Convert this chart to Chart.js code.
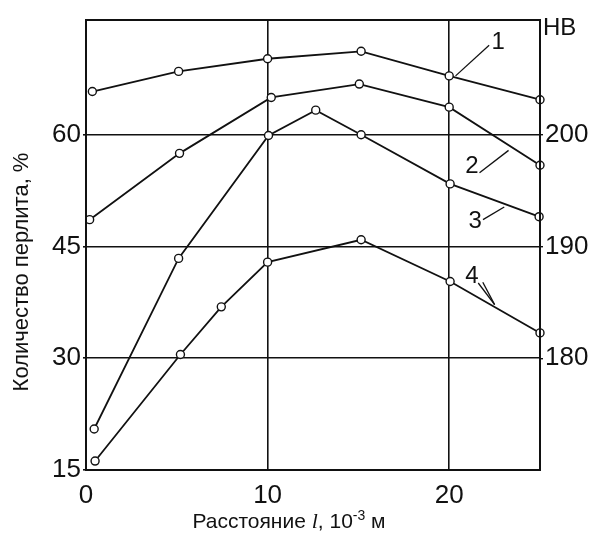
<!DOCTYPE html>
<html>
<head>
<meta charset="utf-8">
<script src="https://cdn.jsdelivr.net/npm/chart.js@4.4.1/dist/chart.umd.min.js"></script>
<style>
  body { margin: 0; background: #fff; }
  canvas { display: block; }
</style>
</head>
<body>
<canvas id="pearliteChart" width="598" height="543"></canvas>
<script>
// distance, 10^-3 m
const series1X = [0.35, 5.1, 10.0, 15.15, 20.0, 25.0];
const series1Y = [65.8, 68.5, 70.2, 71.2, 67.9, 64.7];
const series2X = [0.2, 5.15, 10.2, 15.05, 20.0, 25.0];
const series2Y = [48.6, 57.5, 65.0, 66.8, 63.7, 55.9];
const series3X = [0.45, 5.1, 10.05, 12.65, 15.15, 20.05, 24.95];
const series3Y = [20.5, 43.4, 59.9, 63.3, 60.0, 53.4, 49.0];
const series4X = [0.5, 5.2, 7.45, 10.0, 15.15, 20.05, 25.0];
const series4Y = [16.2, 30.5, 36.9, 42.9, 45.9, 40.3, 33.4];

const xTicks = [0, 10, 20];
const yTicks = [15, 30, 45, 60];
const hbTicks = [180, 190, 200];

// curve numbers: [text, textX, textY, [leader lines x1,y1,x2,y2]]
const curveLabels = [
    ['1', 22.7, 72.4, [[20.35, 67.9, 22.2, 72.0]]],
    ['2', 21.25, 55.8, [[21.67, 54.9, 23.27, 57.9]]],
    ['3', 21.43, 48.4, [[21.86, 48.6, 23.03, 50.3]]],
    ['4', 21.25, 41.0, [[21.6, 40.1, 22.5, 37.2], [21.85, 40.2, 22.5, 37.2]]]
];

function toPoints(xs, ys) {
    return xs.map(function (x, i) { return { x: x, y: ys[i] }; });
}

// HB axis is tied to the percent axis: 60% -> 200, 30% -> 180
function pctToHB(v) { return 180 + (v - 30) * 20 / 30; }

const yMin = 15, yMax = 75.4;

let framePlugin = {
    id: 'framePlugin',
    afterDraw: function (chart) {
        let ctx = chart.ctx;
        let a = chart.chartArea;
        let xs = chart.scales.x, ys = chart.scales.y;
        ctx.save();
        ctx.strokeStyle = '#111';
        ctx.lineWidth = 2;
        ctx.strokeRect(a.left, a.top, a.right - a.left, a.bottom - a.top);

        // curve numbers
        ctx.font = '24px "Liberation Sans", Arial, sans-serif';
        ctx.fillStyle = '#111';
        ctx.textAlign = 'center';
        ctx.textBaseline = 'middle';
        ctx.lineWidth = 1.3;
        curveLabels.forEach(function (l) {
            ctx.fillText(l[0], xs.getPixelForValue(l[1]), ys.getPixelForValue(l[2]));
            l[3].forEach(function (s) {
                ctx.beginPath();
                ctx.moveTo(xs.getPixelForValue(s[0]), ys.getPixelForValue(s[1]));
                ctx.lineTo(xs.getPixelForValue(s[2]), ys.getPixelForValue(s[3]));
                ctx.stroke();
            });
        });

        // HB unit
        ctx.textAlign = 'left';
        ctx.textBaseline = 'alphabetic';
        ctx.font = '24px "Liberation Sans", Arial, sans-serif';
        ctx.fillText('HB', a.right + 3, a.top + 15);

        // y title
        ctx.save();
        ctx.translate(22, 272);
        ctx.rotate(-Math.PI / 2);
        ctx.textAlign = 'center';
        ctx.textBaseline = 'middle';
        ctx.font = '22px "Liberation Sans", Arial, sans-serif';
        ctx.fillText('Количество перлита, %', 0, 0);
        ctx.restore();

        // x title with italic l and superscript
        let parts = [
            ['Расстояние ', '21px "Liberation Sans", Arial, sans-serif', 0],
            ['l', 'italic 22px "Liberation Serif", "Times New Roman", serif', 0],
            [', 10', '21px "Liberation Sans", Arial, sans-serif', 0],
            ['-3', '14px "Liberation Sans", Arial, sans-serif', -8],
            [' м', '21px "Liberation Sans", Arial, sans-serif', 0]
        ];
        let total = 0;
        parts.forEach(function (p) { ctx.font = p[1]; total += ctx.measureText(p[0]).width; });
        let x = 289 - total / 2;
        let base = 528;
        parts.forEach(function (p) {
            ctx.font = p[1];
            ctx.fillText(p[0], x, base + p[2]);
            x += ctx.measureText(p[0]).width;
        });
        ctx.restore();
    }
};

let lineStyle = {
    borderColor: '#111',
    borderWidth: 1.8,
    pointRadius: 4,
    pointBorderWidth: 1.4,
    pointBackgroundColor: '#fff',
    pointBorderColor: '#111',
    fill: false,
    tension: 0,
    clip: false
};

let pearliteCtx = document.getElementById('pearliteChart').getContext('2d');
let pearliteChart = new Chart(pearliteCtx, {
    type: 'line',
    data: {
        datasets: [
            Object.assign({ label: '1', data: toPoints(series1X, series1Y) }, lineStyle),
            Object.assign({ label: '2', data: toPoints(series2X, series2Y) }, lineStyle),
            Object.assign({ label: '3', data: toPoints(series3X, series3Y) }, lineStyle),
            Object.assign({ label: '4', data: toPoints(series4X, series4Y) }, lineStyle)
        ]
    },
    options: {
        responsive: false,
        animation: false,
        layout: { padding: { top: 20, left: 0, right: 0, bottom: 0 } },
        plugins: { legend: { display: false }, tooltip: { enabled: false } },
        scales: {
            x: {
                type: 'linear',
                min: 0,
                max: 25,
                afterBuildTicks: function (s) { s.ticks = xTicks.map(function (v) { return { value: v }; }); },
                afterFit: function (s) { s.height = 73; },
                grid: { color: '#111', lineWidth: 1.6, drawTicks: false },
                border: { display: false },
                ticks: {
                    color: '#111',
                    padding: 10,
                    maxRotation: 0,
                    font: { family: '"Liberation Sans", Arial, sans-serif', size: 26 }
                }
            },
            y: {
                min: yMin,
                max: yMax,
                afterBuildTicks: function (s) { s.ticks = yTicks.map(function (v) { return { value: v }; }); },
                afterFit: function (s) { s.width = 86; },
                grid: { color: '#111', lineWidth: 1.6, tickLength: 3 },
                border: { display: false },
                ticks: {
                    color: '#111',
                    padding: 2,
                    font: { family: '"Liberation Sans", Arial, sans-serif', size: 26 }
                }
            },
            hb: {
                position: 'right',
                min: pctToHB(yMin),
                max: pctToHB(yMax),
                afterBuildTicks: function (s) { s.ticks = hbTicks.map(function (v) { return { value: v }; }); },
                afterFit: function (s) { s.width = 58; },
                grid: { drawOnChartArea: false, color: '#111', lineWidth: 1.4, tickLength: 3 },
                border: { display: false },
                ticks: {
                    color: '#111',
                    padding: 2,
                    font: { family: '"Liberation Sans", Arial, sans-serif', size: 26 }
                }
            }
        }
    },
    plugins: [framePlugin]
});
</script>
</body>
</html>
